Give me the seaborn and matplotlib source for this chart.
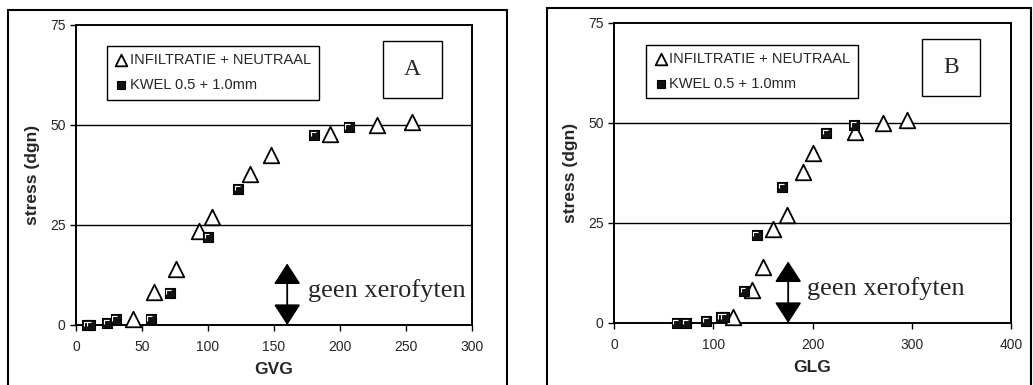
import matplotlib
matplotlib.use("Agg")
import matplotlib.pyplot as plt
import seaborn as sns
import pandas as pd
from matplotlib.patches import Rectangle
from matplotlib.path import Path

# ---- data ----
stress_inf = [1.6, 8.2, 14.0, 23.6, 26.9, 37.7, 42.4, 47.7, 50.1, 50.7]
stress_kwel = [0.0, 0.0, 0.5, 1.4, 1.4, 8.0, 22.0, 34.0, 47.5, 49.4]
gvg_inf = [43.5, 59, 76, 93.5, 103, 132, 148, 192.5, 228, 254.5]
gvg_kwel = [8.6, 10.6, 23.8, 30, 56.6, 71, 100, 123, 180.5, 206.5]
glg_inf = [120, 139, 150, 160.5, 174, 190.7, 201, 243, 271.5, 295]
glg_kwel = [63, 73, 93, 107.7, 111, 131, 143.6, 169.5, 214, 242]

series_labels = ["INFILTRATIE + NEUTRAAL", "KWEL 0.5 + 1.0mm"]
y_ticks = [0, 25, 50, 75]
gvg_ticks = [0, 50, 100, 150, 200, 250, 300]
glg_ticks = [0, 100, 200, 300, 400]
arrow_top = 15.4

sns.set_style("ticks")
plt.rcParams["font.family"] = ["Liberation Sans", "DejaVu Sans"]

fig = plt.figure(figsize=(10.33, 3.85), dpi=100)
ax_a = fig.add_axes([76 / 1033, 60 / 385, 396 / 1033, 300 / 385])
ax_b = fig.add_axes([614 / 1033, 62 / 385, 397 / 1033, 300 / 385])

# outer chart-area frames
fig.add_artist(Rectangle((8 / 1033, -0.1), 499 / 1033, 375 / 385 + 0.1,
                         transform=fig.transFigure, fill=False,
                         edgecolor="black", lw=1.5))
fig.add_artist(Rectangle((547 / 1033, -0.1), 484 / 1033, 377 / 385 + 0.1,
                         transform=fig.transFigure, fill=False,
                         edgecolor="black", lw=1.5))

# small white bevel highlight used on the square markers (Excel style)
bevel = Path([(-0.6, -0.25), (-0.6, 0.6), (0.25, 0.6)],
             [Path.MOVETO, Path.LINETO, Path.LINETO])

panels = [
    (ax_a, gvg_inf, gvg_kwel, gvg_ticks, "GVG", "A", 160, 176, (0.078, 0.93)),
    (ax_b, glg_inf, glg_kwel, glg_ticks, "GLG", "B", 175.5, 194, (0.081, 0.927)),
]

sq_s = 62
for ax, x_inf, x_kwel, xt, xlabel, tag, ax_x, tx_x, leg_pos in panels:
    df_inf = pd.DataFrame({"x": x_inf, "y": stress_inf})
    df_kwel = pd.DataFrame({"x": x_kwel, "y": stress_kwel})
    for yv in [25, 50]:
        ax.axhline(yv, color="black", lw=1.0, zorder=1)
    sns.scatterplot(data=df_inf, x="x", y="y", marker="^", s=125,
                    facecolor="white", edgecolor="black", linewidth=1.3,
                    ax=ax, zorder=3, label=series_labels[0])
    sns.scatterplot(data=df_kwel, x="x", y="y", marker="s", s=sq_s,
                    color="#111111", edgecolor="black", linewidth=0.8,
                    ax=ax, zorder=4, label=series_labels[1])
    sns.scatterplot(data=df_kwel, x="x", y="y", marker=bevel,
                    s=(0.6 * sq_s ** 0.5) ** 2, facecolor="none",
                    edgecolor="white", linewidth=0.8, ax=ax, zorder=4.5,
                    legend=False)
    for coll in ax.collections:
        coll.set_clip_on(False)
    ax.set_xlim(xt[0], xt[-1])
    ax.set_ylim(0, 75)
    ax.set_xticks(xt)
    ax.set_yticks(y_ticks)
    ax.tick_params(axis="both", labelsize=10, length=4.5, width=1.0,
                   color="black", direction="out")
    ax.tick_params(axis="x", pad=6)
    ax.tick_params(axis="y", pad=3)
    for sp in ax.spines.values():
        sp.set_visible(True)
        sp.set_linewidth(1.4)
        sp.set_color("black")
    ax.set_xlabel(xlabel, fontsize=12.5, fontweight="bold", labelpad=6)
    ax.set_ylabel("stress (dgn)", fontsize=12.5, fontweight="bold", labelpad=7)

    leg = ax.legend(loc="upper left", bbox_to_anchor=leg_pos, borderaxespad=0,
                    frameon=True, fancybox=False, edgecolor="black",
                    framealpha=1, fontsize=10.5, handletextpad=0.1,
                    borderpad=0.5, labelspacing=0.75, handlelength=1.0,
                    markerscale=0.75)
    leg.get_frame().set_linewidth(1.0)

    ax.annotate("", xy=(ax_x, 0), xytext=(ax_x, arrow_top),
                arrowprops=dict(arrowstyle="<|-|>,head_length=0.65,head_width=0.42",
                                mutation_scale=20, color="black", lw=1.3,
                                shrinkA=0, shrinkB=0), zorder=5)
    ax.text(tx_x, 8.7, "geen xerofyten", family="Liberation Serif",
            fontsize=19, va="center", ha="left")

    ax.add_patch(Rectangle((0.775, 0.755), 0.148, 0.193, transform=ax.transAxes,
                           fill=False, edgecolor="black", lw=1.0))
    ax.text(0.849, 0.852, tag, transform=ax.transAxes, family="Liberation Serif",
            fontsize=17, ha="center", va="center")

fig.savefig("out.png", dpi=100)
